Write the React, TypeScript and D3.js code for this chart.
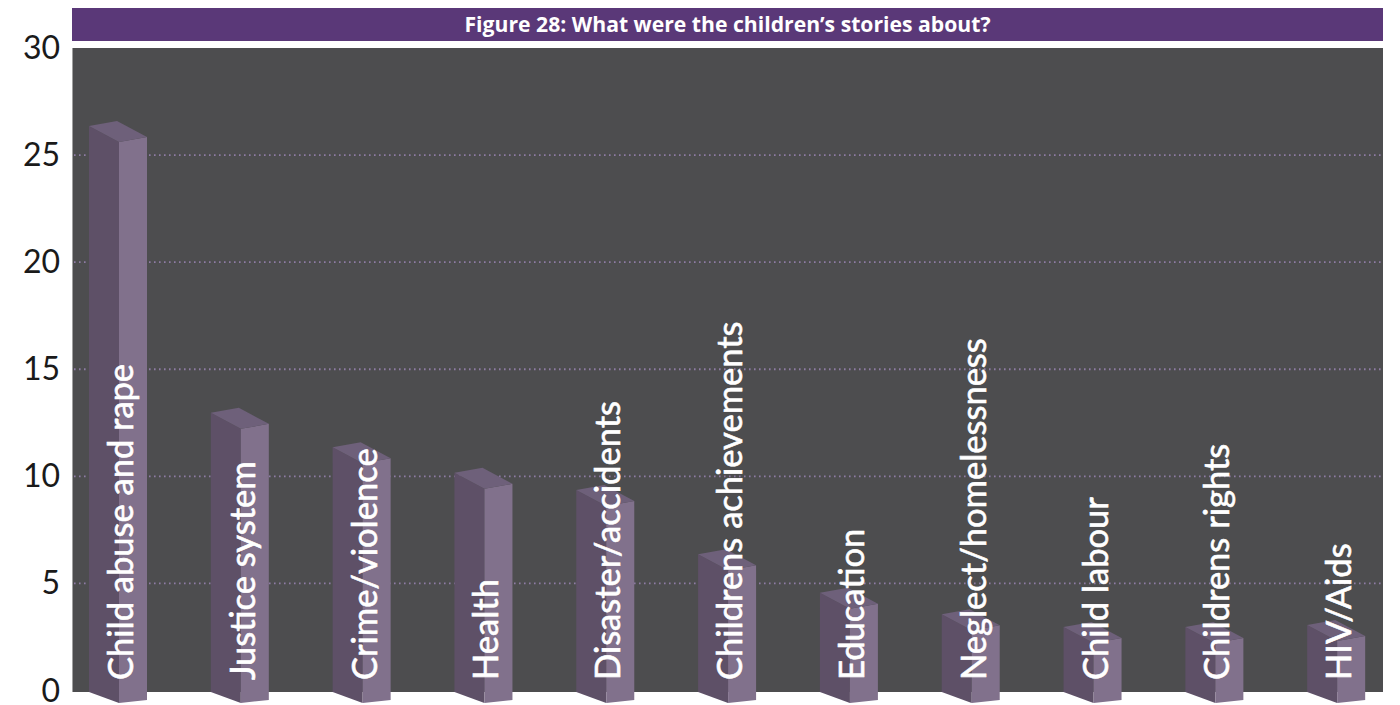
import React from "react";
import * as d3 from "d3";

const categories = [
  "Child abuse and rape",
  "Justice system",
  "Crime/violence",
  "Health",
  "Disaster/accidents",
  "Childrens achievements",
  "Education",
  "Neglect/homelessness",
  "Child labour",
  "Childrens rights",
  "HIV/Aids",
];
const values = [26.2, 12.8, 11.2, 10.0, 9.2, 6.2, 4.4, 3.4, 2.8, 2.8, 2.9];
const yTicks = [0, 5, 10, 15, 20, 25, 30];
const gridTicks = [5, 10, 15, 20, 25];
const title = "Figure 28: What were the children’s stories about?";

const W = 1400;
const H = 705;
const plotLeft = 72;
const plotRight = 1383;
const plotTop = 48;
const zeroY = 690.5;

export default function App() {
  const y = d3.scaleLinear().domain([0, 30]).range([zeroY, plotTop]);
  const x = d3.scaleBand<string>().domain(categories).range([57, 1397]).padding(0);

  const sideW = 30;
  const frontW = 28;
  const dz = 12.5; // front face baseline offset (3D depth)

  return (
    <svg
      width={W}
      height={H}
      style={{ position: "absolute", left: 0, top: 0, display: "block", background: "#ffffff" }}
    >
      {/* title bar */}
      <rect x={plotLeft} y={8} width={plotRight - plotLeft} height={33} fill="#5a3878" />
      <text
        x={(plotLeft + plotRight) / 2}
        y={31.5}
        textAnchor="middle"
        fill="#ffffff"
        fontFamily="'Open Sans', sans-serif"
        fontWeight={700}
        fontSize={20.5}
        textLength={526}
        lengthAdjust="spacingAndGlyphs"
      >
        {title}
      </text>

      {/* plot background */}
      <rect x={plotLeft} y={plotTop} width={plotRight - plotLeft} height={zeroY + 1.5 - plotTop} fill="#4d4d4f" />
      <line x1={plotLeft + 0.5} x2={plotLeft + 0.5} y1={plotTop} y2={zeroY + 1.5} stroke="#a0a0a0" strokeWidth={1} />

      {/* gridlines */}
      {gridTicks.map((t) => (
        <line
          key={t}
          x1={plotLeft + 2}
          x2={plotRight}
          y1={y(t)}
          y2={y(t)}
          stroke="#8e7ca4"
          strokeWidth={1.8}
          strokeDasharray="1.6 3.4"
        />
      ))}

      {/* y-axis labels */}
      {yTicks.map((t) => (
        <text
          key={t}
          x={60}
          y={y(t) + 11}
          textAnchor="end"
          fill="#1a1a1a"
          fontFamily="Lato, sans-serif"
          fontWeight={400}
          fontSize={32}
        >
          {t}
        </text>
      ))}

      {/* 3D bars */}
      {categories.map((c, i) => {
        const xf = (x(c) as number) + 62;
        const yt = y(values[i]) + dz;
        const yb = zeroY + dz;
        const side = [
          [xf - sideW, yt - 16],
          [xf, yt],
          [xf, yb],
          [xf - sideW, zeroY + 1.5],
        ];
        const front = [
          [xf, yt],
          [xf + frontW, yt - 5],
          [xf + frontW, yb - 3],
          [xf, yb],
        ];
        const top = [
          [xf - sideW, yt - 16],
          [xf - sideW + frontW, yt - 21],
          [xf + frontW, yt - 5],
          [xf, yt],
        ];
        const pts = (p: number[][]) => p.map((d) => d.join(",")).join(" ");
        return (
          <g key={c}>
            <polygon points={pts(side)} fill="#5e5067" />
            <polygon points={pts(front)} fill="#81718c" />
            <polygon points={pts(top)} fill="#6e607a" />
          </g>
        );
      })}

      {/* category labels inside bars */}
      {categories.map((c) => {
        const xf = (x(c) as number) + 62;
        return (
          <text
            key={c + "-lbl"}
            transform={`translate(${xf + 14},680) rotate(-90)`}
            fill="#ffffff"
            stroke="#ffffff"
            strokeWidth={0.6}
            fontFamily="Lato, sans-serif"
            fontWeight={400}
            fontSize={34.5}
          >
            {c}
          </text>
        );
      })}
    </svg>
  );
}
